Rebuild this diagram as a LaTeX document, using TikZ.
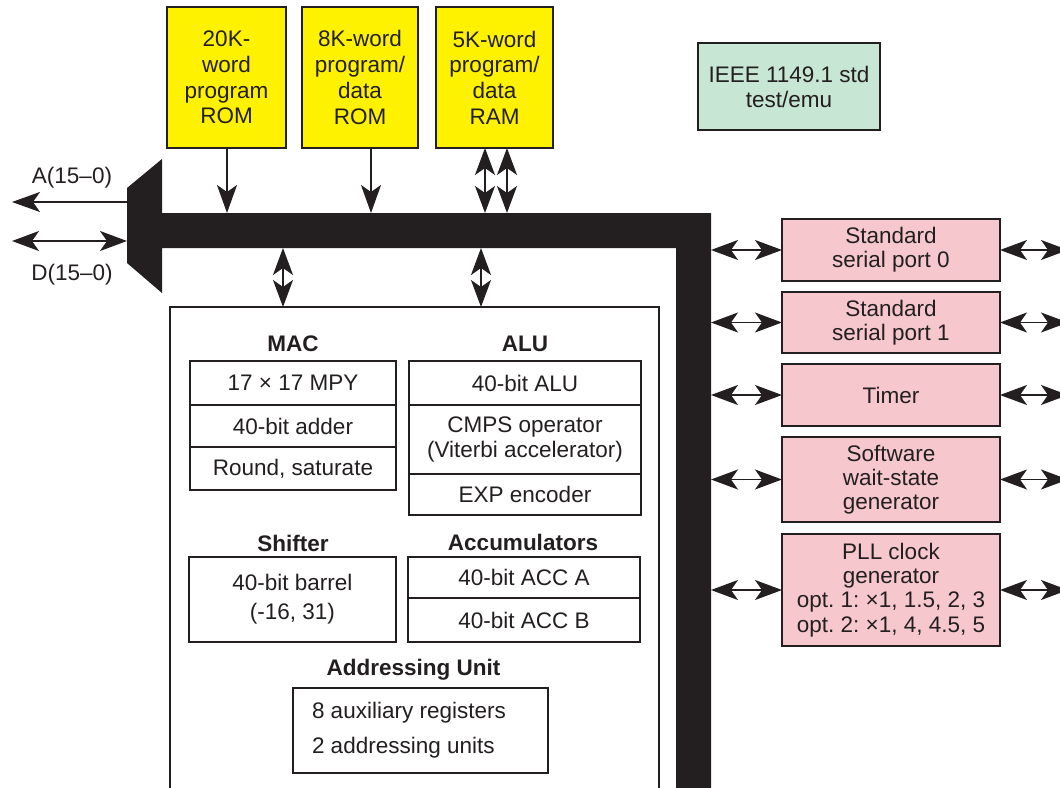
\documentclass[tikz,border=0pt]{standalone}
\usepackage{fontspec}
\setmainfont{Liberation Sans}
\usetikzlibrary{arrows.meta}
\definecolor{ink}{HTML}{231F20}
\definecolor{romyellow}{HTML}{FFF200}
\definecolor{perpink}{HTML}{F6C8CD}
\definecolor{testgreen}{HTML}{C8E6D4}
\frenchspacing
\tikzset{
  base/.style={font=\fontsize{22.5}{25}\selectfont, text=ink},
  box/.style={base, draw=ink, line width=2pt, inner sep=0pt, outer sep=0pt, align=center},
  rom/.style={box, fill=romyellow, minimum height=141pt, font=\fontsize{22.5}{25.7}\selectfont},
  per/.style={box, fill=perpink, minimum width=218pt, font=\fontsize{22.5}{24.3}\selectfont},
  cell/.style={box, fill=white},
  ttl/.style={base, font=\fontsize{22.5}{25}\selectfont\bfseries},
  onearrow/.style={draw=ink, line width=1.5pt, -{Stealth[length=28pt,width=20pt,inset=7pt]}},
  twoarrow/.style={draw=ink, line width=1.5pt, {Stealth[length=27pt,width=20pt,inset=7pt]}-{Stealth[length=27pt,width=20pt,inset=7pt]}},
}
\begin{document}
\begin{tikzpicture}[x=1pt,y=-1pt]
\useasboundingbox (0,0) rectangle (1060,787);
\clip (0,0) rectangle (1060,787);

% bus
\fill[ink] (127,188) -- (162,159) -- (162,213) -- (711,213) -- (711,800) -- (676,800)
  -- (676,248) -- (162,248) -- (162,293) -- (127,263) -- cycle;
\coordinate (busA) at (127,202);
\coordinate (busD) at (127,241);
\coordinate (aEnd) at (12,202);
\coordinate (dEnd) at (12,241);
\coordinate (busTop) at (0,213);
\coordinate (busBot) at (0,248);
\coordinate (busR) at (711,0);
\coordinate (edgeR) at (1068,0);

% memories
\node[rom, minimum width=119pt] (rom1) at (226.5,77.5) {20K-\\word\\program\\ROM};
\node[rom, minimum width=116pt] (rom2) at (360,77.5) {8K-word\\program/\\data\\ROM};
\node[rom, minimum width=117pt] (ram) at (494.5,77.5) {5K-word\\program/\\data\\RAM};

\node[box, fill=testgreen, minimum width=182pt, minimum height=87pt] (jtag) at (789,86.5) {IEEE 1149.1 std\\test/emu};

% CPU box
\node[draw=ink, line width=2.5pt, minimum width=489pt, minimum height=520pt, inner sep=0pt, outer sep=0pt] (cpu) at (414.5,567) {};

% left I/O
\node[base] (alab) at (72,178) {A(15–0)};
\node[base] (dlab) at (72,275) {D(15–0)};
\draw[onearrow] (busA) -- (aEnd);
\draw[twoarrow] (dEnd) -- (busD);

% memory arrows
\coordinate (m1) at (227,148);
\coordinate (m2) at (371,148);
\coordinate (m3) at (485,148);
\coordinate (m4) at (507,148);
\draw[onearrow] (m1) -- (m1 |- busTop);
\draw[onearrow] (m2) -- (m2 |- busTop);
\draw[twoarrow] (m3) -- (m3 |- busTop);
\draw[twoarrow] (m4) -- (m4 |- busTop);

% bus to CPU
\coordinate (c1) at (283,248);
\coordinate (c2) at (481,248);
\draw[twoarrow] (c1) -- (c1 |- cpu.north);
\draw[twoarrow] (c2) -- (c2 |- cpu.north);

% peripherals
\node[per, minimum height=62pt] (sp0) at (891,250) {Standard\\serial port 0};
\node[per, minimum height=61pt] (sp1) at (891,322.5) {Standard\\serial port 1};
\node[per, minimum height=62pt] (tim) at (891,395) {Timer};
\node[per, minimum height=85pt] (sws) at (891,479.5) {Software\\wait-state\\generator};
\node[per, minimum height=112pt] (pll) at (891,590) {PLL clock\\generator\\opt. 1: ×1, 1.5, 2, 3\\opt. 2: ×1, 4, 4.5, 5};
\foreach \p in {sp0,sp1,tim,sws,pll}{
  \draw[twoarrow] (\p.west -| busR) -- (\p.west);
  \draw[twoarrow] (\p.east) -- (\p.east -| edgeR);
}

% MAC
\node[ttl] (macT) at (293,344) {MAC};
\node[cell, minimum width=206pt, minimum height=44pt] (mac1) at (293,383) {17 × 17 MPY};
\node[cell, minimum width=206pt, minimum height=42pt, anchor=north] (mac2) at (mac1.south) {40-bit adder};
\node[cell, minimum width=206pt, minimum height=43pt, anchor=north] (mac3) at (mac2.south) {Round, saturate};

% ALU
\node[ttl] (aluT) at (525,344) {ALU};
\node[cell, minimum width=232pt, minimum height=44pt] (alu1) at (525,383) {40-bit ALU};
\node[cell, minimum width=232pt, minimum height=69pt, anchor=north] (alu2) at (alu1.south) {CMPS operator\\(Viterbi accelerator)};
\node[cell, minimum width=232pt, minimum height=41pt, anchor=north] (alu3) at (alu2.south) {EXP encoder};

% Shifter
\node[ttl] (shT) at (293,543) {Shifter};
\node[cell, minimum width=207pt, minimum height=85pt, font=\fontsize{22.5}{29}\selectfont] (sh) at (292.5,599.5) {40-bit barrel\\(-16, 31)};

% Accumulators
\node[ttl] (accT) at (523,542) {Accumulators};
\node[cell, minimum width=232pt, minimum height=41pt] (accA) at (524,577.5) {40-bit ACC A};
\node[cell, minimum width=232pt, minimum height=44pt, anchor=north] (accB) at (accA.south) {40-bit ACC B};

% Addressing unit
\node[ttl] (adT) at (413.5,670) {Addressing Unit};
\node[cell, minimum width=255pt, minimum height=85pt, align=left, font=\fontsize{22.5}{35}\selectfont] (adr) at (420.5,730.5) {\makebox[217pt][l]{8 auxiliary registers}\\\makebox[217pt][l]{2 addressing units}};
\end{tikzpicture}
\end{document}
